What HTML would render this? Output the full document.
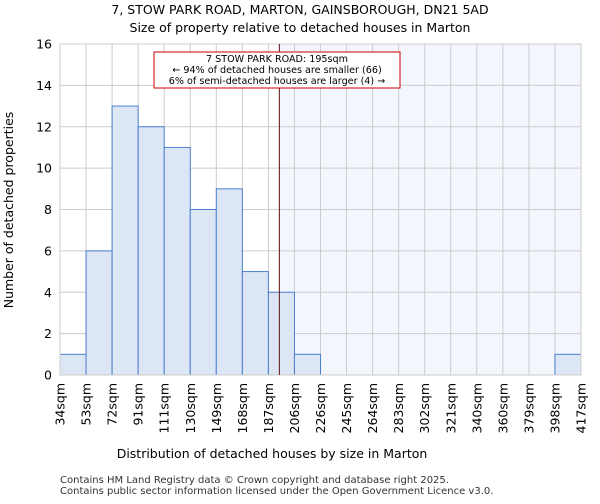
<!DOCTYPE html>
<html><head><meta charset="utf-8"><style>
body{margin:0;background:#fff;font-family:"DejaVu Sans","Liberation Sans",sans-serif}
</style></head><body>
<svg id="c" width="600" height="500" xmlns="http://www.w3.org/2000/svg" font-family="DejaVu Sans, Liberation Sans, sans-serif">
<text x="300" y="14" text-anchor="middle" font-size="12.5">7, STOW PARK ROAD, MARTON, GAINSBOROUGH, DN21 5AD</text>
<text x="300" y="32" text-anchor="middle" font-size="12.5">Size of property relative to detached houses in Marton</text>
<g id="plot"></g>
<text x="272" y="458" text-anchor="middle" font-size="12.5">Distribution of detached houses by size in Marton</text>
<text transform="translate(13,210) rotate(-90)" text-anchor="middle" font-size="12.5">Number of detached properties</text>
<text x="60" y="483" font-size="10" fill="#333">Contains HM Land Registry data © Crown copyright and database right 2025.</text>
<text x="60" y="494" font-size="10" fill="#333">Contains public sector information licensed under the Open Government Licence v3.0.</text>
</svg>
<script>
const labels=["34sqm","53sqm","72sqm","91sqm","111sqm","130sqm","149sqm","168sqm","187sqm","206sqm","226sqm","245sqm","264sqm","283sqm","302sqm","321sqm","340sqm","360sqm","379sqm","398sqm","417sqm"];
const counts=[1,6,13,12,11,8,9,5,4,1,0,0,0,0,0,0,0,0,0,1];
const yTicks=[0,2,4,6,8,10,12,14,16];
const propertyIndex=8.42;
const NS="http://www.w3.org/2000/svg";
const g=document.getElementById("plot");
const L=60,R=581,T=44,B=375,n=counts.length;
const xs=i=>L+(R-L)*i/n, ys=v=>B-(B-T)*v/16;
function mk(t,a,p){const e=document.createElementNS(NS,t);for(const k in a)e.setAttribute(k,a[k]);(p||g).appendChild(e);return e;}
const px=xs(propertyIndex);
const sh=mk("rect",{x:px,y:T,width:R-px,height:B-T,fill:"#f3f6fc"});


for(let i=0;i<=n;i++){const l=mk("line",{x1:xs(i),x2:xs(i),y1:T,y2:B,stroke:"#ccc","stroke-width":1});

}
yTicks.forEach(v=>{const l=mk("line",{x1:L,x2:R,y1:ys(v),y2:ys(v),stroke:"#ccc","stroke-width":1});


const t=mk("text",{x:L-8,y:ys(v)+4.5,"text-anchor":"end","font-size":12.5});t.textContent=v;

});
counts.forEach((c,i)=>{if(!c)return;const r=mk("rect",{x:xs(i),y:ys(c),width:xs(i+1)-xs(i),height:B-ys(c),fill:"#dde6f5",stroke:"#4a7fd0","stroke-width":1});

});
labels.forEach((s,i)=>{const t=mk("text",{"text-anchor":"end","font-size":12.5,transform:`translate(${xs(i)+4.5},${B+8}) rotate(-90)`});t.textContent=s;

});
const ax=mk("rect",{x:L,y:T,width:R-L,height:B-T,fill:"none",stroke:"#ccc"});


const ml=mk("line",{x1:px,x2:px,y1:T,y2:B,stroke:"#5a1010","stroke-width":1});


const box=mk("rect",{x:154,y:52,width:246,height:36,fill:"#fff",stroke:"#cc0000","stroke-width":1});


["7 STOW PARK ROAD: 195sqm","← 94% of detached houses are smaller (66)","6% of semi-detached houses are larger (4) →"].forEach((s,i)=>{const t=mk("text",{x:277,y:62+i*11,"text-anchor":"middle","font-size":9.6});t.textContent=s;

});
</script>
</body></html>
